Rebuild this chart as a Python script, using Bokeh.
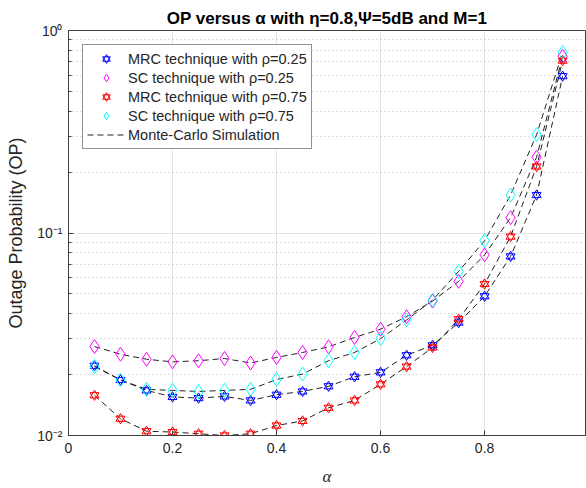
from bokeh.plotting import figure
from bokeh.models import Range1d, FixedTicker, Legend, LegendItem
from bokeh.embed import file_html
from bokeh.resources import INLINE

# ---- data ----
alpha = [0.05, 0.10, 0.15, 0.20, 0.25, 0.30, 0.35, 0.40, 0.45, 0.50,
         0.55, 0.60, 0.65, 0.70, 0.75, 0.80, 0.85, 0.90, 0.95]
mrc_025 = [0.0221, 0.0188, 0.0167, 0.0155, 0.0153, 0.0156, 0.0149, 0.0159, 0.0165, 0.0175,
           0.0195, 0.0205, 0.0249, 0.0279, 0.0361, 0.0487, 0.0766, 0.154, 0.595]
sc_025 = [0.0275, 0.0252, 0.0238, 0.0231, 0.0234, 0.0240, 0.0228, 0.0243, 0.0257, 0.0274,
          0.0305, 0.0335, 0.0386, 0.0461, 0.0577, 0.078, 0.119, 0.237, 0.746]
mrc_075 = [0.0158, 0.0121, 0.0105, 0.0104, 0.0102, 0.0100, 0.0102, 0.0112, 0.0118, 0.0137,
           0.0149, 0.0179, 0.0219, 0.0272, 0.0375, 0.056, 0.096, 0.213, 0.71]
sc_075 = [0.0219, 0.0188, 0.0169, 0.0167, 0.0165, 0.0167, 0.0169, 0.0189, 0.0201, 0.0234,
          0.0257, 0.0301, 0.0372, 0.0466, 0.0646, 0.0917, 0.154, 0.306, 0.780]

labels = ["MRC technique with ρ=0.25", "SC technique with ρ=0.25",
          "MRC technique with ρ=0.75", "SC technique with ρ=0.75",
          "Monte-Carlo Simulation"]
x_ticks = [0, 0.2, 0.4, 0.6, 0.8]
x_tick_labels = ["0", "0.2", "0.4", "0.6", "0.8"]
y_ticks = [0.01, 0.1, 1.0]
y_tick_labels = ["10⁻²", "10⁻¹", "10⁰"]
y_minor = [k * 10.0 ** e for e in (-2, -1) for k in range(2, 10)]

FONT = "Liberation Sans"
TXT = "#262626"

p = figure(width=586, height=488, x_range=Range1d(0, 0.994), y_range=Range1d(0.01, 1),
           y_axis_type="log", output_backend="svg", toolbar_location=None,
           min_border_left=68, min_border_right=1, min_border_top=30, min_border_bottom=51,
           title="OP versus α with η=0.8,Ψ=5dB and M=1")

p.title.text_font = FONT
p.title.text_font_size = "17px"
p.title.text_font_style = "bold"
p.title.text_color = "black"
p.title.align = "center"
p.title.standoff = 6

# axes
for ax in (p.xaxis, p.yaxis):
    ax.major_label_text_font = FONT
    ax.major_label_text_font_size = "14px"
    ax.major_label_text_color = TXT
    ax.axis_line_color = "#404040"
    ax.major_tick_line_color = "#404040"
    ax.minor_tick_line_color = "#404040"
    ax.major_tick_in = 5
    ax.major_tick_out = 0
    ax.minor_tick_in = 3
    ax.minor_tick_out = 0

p.xaxis.ticker = FixedTicker(ticks=x_ticks)
p.xaxis.major_label_overrides = dict(zip(x_ticks, x_tick_labels))
p.xaxis.axis_label = "α"
p.xaxis.axis_label_text_font = "Liberation Serif"
p.xaxis.axis_label_text_font_style = "italic"
p.xaxis.axis_label_text_font_size = "17px"
p.xaxis.axis_label_text_color = TXT
p.xaxis.major_label_standoff = 7
p.xaxis.axis_label_standoff = 11

p.yaxis.ticker = FixedTicker(ticks=y_ticks, minor_ticks=y_minor)
p.yaxis.major_label_overrides = dict(zip(y_ticks, y_tick_labels))
p.yaxis.axis_label = "Outage Probability (OP)"
p.yaxis.axis_label_text_font = FONT
p.yaxis.axis_label_text_font_style = "normal"
p.yaxis.axis_label_text_font_size = "18px"
p.yaxis.axis_label_text_color = TXT
p.yaxis.major_label_standoff = 6
p.yaxis.axis_label_standoff = 8

p.outline_line_color = "#404040"

# grids
p.xgrid.ticker = FixedTicker(ticks=x_ticks)
p.xgrid.grid_line_color = "#e3e3e3"
p.ygrid.grid_line_color = "#e3e3e3"
p.ygrid.minor_grid_line_color = "#bdbdbd"
p.ygrid.minor_grid_line_dash = "1 3"

# simulation lines
line_renderers = []
for s in (mrc_025, sc_025, mrc_075, sc_075):
    line_renderers.append(p.line(alpha, s, line_color="#222222", line_width=1, line_dash="6 4"))

def hexagram(ys, color):
    a = p.scatter(alpha, ys, marker="triangle", size=9, fill_alpha=0, line_color=color, line_width=1)
    b = p.scatter(alpha, ys, marker="inverted_triangle", size=9, fill_alpha=0, line_color=color, line_width=1)
    return [a, b]

def diamond(ys, color):
    return [p.scatter(alpha, ys, marker="diamond", size=14, fill_alpha=0, line_color=color, line_width=1)]

r1 = hexagram(mrc_025, "#0000ff")
r2 = diamond(sc_025, "#ff00ff")
r3 = hexagram(mrc_075, "#ff0000")
r4 = diamond(sc_075, "#00ffff")

items = [LegendItem(label=labels[0], renderers=r1),
         LegendItem(label=labels[1], renderers=r2),
         LegendItem(label=labels[2], renderers=r3),
         LegendItem(label=labels[3], renderers=r4),
         LegendItem(label=labels[4], renderers=[line_renderers[0]])]
legend = Legend(items=items, location="top_left")
legend.margin = 14
legend.padding = 4
legend.spacing = 0
legend.glyph_width = 38
legend.glyph_height = 19
legend.label_height = 19
legend.label_standoff = 3
legend.label_text_font = FONT
legend.label_text_font_size = "14.5px"
legend.label_text_color = TXT
legend.border_line_color = "#262626"
legend.border_line_width = 1
legend.background_fill_color = "white"
legend.background_fill_alpha = 1
p.add_layout(legend)

open("out.html", "w").write(file_html(p, INLINE))
